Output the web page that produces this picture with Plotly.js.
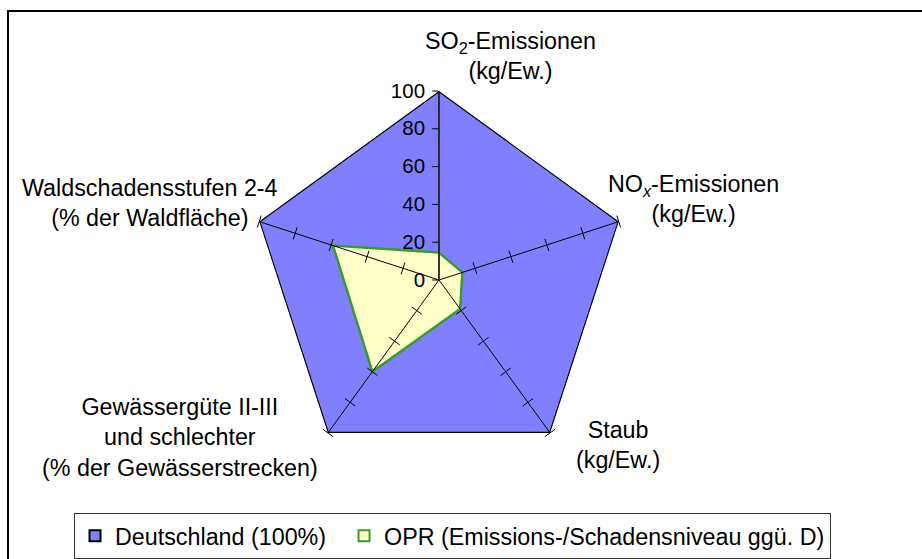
<!DOCTYPE html>
<html>
<head>
<meta charset="utf-8">
<script src="https://cdn.plot.ly/plotly-3.0.1.min.js"></script>
<style>
  html, body { margin: 0; padding: 0; background: #ffffff; overflow: hidden; }
  #chart { width: 922px; height: 559px; position: absolute; left: 0; top: 0; }
  #frame { position: absolute; left: 7px; top: 10px; width: 940px; height: 580px;
           border: 2px solid #000; box-sizing: border-box; pointer-events: none; }
</style>
</head>
<body>
<div id="chart"></div>
<div id="frame"></div>
<script>
// ---- data ----
const categories = ['SO2-Emissionen', 'NOx-Emissionen', 'Staub',
  'Gewässergüte II-III und schlechter', 'Waldschadensstufen 2-4'];
const categoryLabels = [
  'SO<sub>2</sub>-Emissionen<br>(kg/Ew.)',
  'NO<sub><i>x</i></sub>-Emissionen<br>(kg/Ew.)',
  'Staub<br>(kg/Ew.)',
  'Gewässergüte II-III<br>und schlechter<br>(% der Gewässerstrecken)',
  'Waldschadensstufen 2-4<br>(% der Waldfläche)'
];
const deutschland = [100, 100, 100, 100, 100];
const opr = [14.5, 13, 19, 60, 59];
const seriesNames = ['Deutschland (100%)\u00a0\u00a0', 'OPR (Emissions-/Schadensniveau ggü. D)'];
const radialTicks = [0, 20, 40, 60, 80, 100];

// ---- styles ----
const FONT = 'Liberation Sans, Arial, sans-serif';
const FS = 23.3;
const blue = '#8080FF';
const yellow = '#FFFFC8';
const green = '#3A9A32';

function closed(arr) { return arr.concat([arr[0]]); }

const traces = [];
traces.push({
  type: 'scatterpolar', r: closed(deutschland), theta: closed(categories),
  mode: 'lines', fill: 'toself', fillcolor: blue,
  line: { color: '#000000', width: 2.2 }, showlegend: false, hoverinfo: 'skip'
});
traces.push({
  type: 'scatterpolar', r: closed(opr), theta: closed(categories),
  mode: 'lines', fill: 'toself', fillcolor: yellow,
  line: { color: green, width: 2.5 }, showlegend: false, hoverinfo: 'skip'
});

// spokes (category axes) drawn above the fills
const rMax = radialTicks[radialTicks.length - 1];
const spokeR = [], spokeT = [];
categories.forEach(c => { spokeR.push(0, rMax, null); spokeT.push(c, c, c); });
traces.push({
  type: 'scatterpolar', r: spokeR, theta: spokeT, mode: 'lines',
  line: { color: '#000000', width: 1 }, showlegend: false, hoverinfo: 'skip'
});

// tick marks crossing each spoke (except the first, which carries the radial axis)
const tickR = [], tickT = [], tickA = [];
categories.forEach((c, i) => {
  if (i === 0) return;
  radialTicks.slice(1).forEach(v => { tickR.push(v); tickT.push(c); tickA.push(360 / categories.length * i); });
});
traces.push({
  type: 'scatterpolar', r: tickR, theta: tickT, mode: 'markers',
  marker: { symbol: 'line-ew', size: 9, angle: tickA, line: { color: '#000000', width: 1 } },
  showlegend: false, hoverinfo: 'skip'
});

// legend entries
traces.push({
  type: 'scatterpolar', r: [null], theta: [categories[0]], mode: 'markers', name: seriesNames[0],
  marker: { symbol: 'square', size: 11, color: blue, line: { color: '#000000', width: 2 } }
});
traces.push({
  type: 'scatterpolar', r: [null], theta: [categories[0]], mode: 'markers', name: seriesNames[1],
  marker: { symbol: 'square', size: 11, color: yellow, line: { color: green, width: 2 } }
});

// category label annotations (paper positions)
const labelPos = [[510, 56], [693, 199], [618, 445], [180, 437], [150, 203]];
const W = 922, H = 559;
const annotations = categoryLabels.map((t, i) => ({
  text: t, xref: 'paper', yref: 'paper',
  x: labelPos[i][0] / W, y: 1 - labelPos[i][1] / H,
  xanchor: 'center', yanchor: 'middle', showarrow: false, align: 'center',
  font: { family: FONT, size: FS, color: '#000000' }
}));

const layout = {
  width: W, height: H,
  margin: { l: 0, r: 0, t: 0, b: 0 },
  paper_bgcolor: '#ffffff',
  font: { family: FONT, color: '#000000' },
  polar: {
    domain: { x: [250 / W, 628 / W], y: [90 / H, 468 / H] },
    bgcolor: 'rgba(0,0,0,0)',
    gridshape: 'linear',
    angularaxis: {
      type: 'category', categoryarray: categories, rotation: 90, direction: 'clockwise',
      showgrid: false, showline: false, showticklabels: false, ticks: ''
    },
    radialaxis: {
      range: [0, rMax], tickvals: radialTicks, angle: 90, side: 'counterclockwise',
      showgrid: false, showline: true, linecolor: '#222222', linewidth: 1.5,
      ticks: 'outside', ticklen: 6, tickcolor: '#000000', tickwidth: 1,
      tickfont: { family: FONT, size: 20.5, color: '#000000' }, tickangle: 90
    }
  },
  showlegend: true,
  legend: {
    orientation: 'h', x: 74 / W, xanchor: 'left', y: 1 - 536 / H, yanchor: 'middle',
    bgcolor: '#ffffff', bordercolor: '#333333', borderwidth: 1,
    font: { family: FONT, size: FS, color: '#000000' }
  },
  annotations: annotations
};

Plotly.newPlot('chart', traces, layout, { staticPlot: true, displayModeBar: false });
</script>
</body>
</html>
